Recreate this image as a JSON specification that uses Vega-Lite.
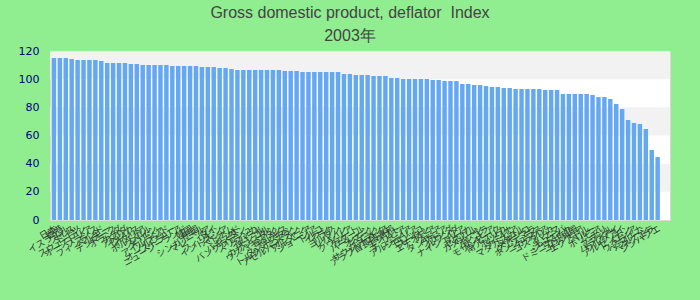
{
  "$schema": "https://vega.github.io/schema/vega-lite/v6.json",
  "autosize": "none",
  "width": 620,
  "height": 169,
  "padding": {"left": 50, "top": 51, "right": 30, "bottom": 80},
  "background": "#90ee90",
  "title": {
    "text": "Gross domestic product, deflator\u00a0 Index",
    "subtitle": "2003年",
    "font": "Liberation Sans",
    "fontSize": 16,
    "fontWeight": "normal",
    "color": "#444444",
    "subtitleFont": "Liberation Sans",
    "subtitleFontSize": 16,
    "subtitleColor": "#444444",
    "subtitlePadding": 7,
    "anchor": "middle",
    "dx": -10,
    "offset": 1
  },
  "config": {
    "view": {"fill": "#ffffff", "stroke": "#d9d9d9", "strokeWidth": 1},
    "axisY": {
      "title": null,
      "domain": false,
      "ticks": false,
      "grid": false,
      "values": [0, 20, 40, 60, 80, 100, 120],
      "labelOverlap": false,
      "labelFont": "DejaVu Sans",
      "labelFontSize": 11,
      "labelColor": "#000080",
      "labelPadding": 11
    }
  },
  "datasets": {
    "bands": [
      {"lo": 100, "hi": 120},
      {"lo": 60, "hi": 80},
      {"lo": 20, "hi": 40}
    ],
    "gdp": [
      {"country": "日本", "value": 115.0},
      {"country": "香港", "value": 115.0},
      {"country": "イスラエル", "value": 115.0},
      {"country": "スイス", "value": 114.3},
      {"country": "ドイツ", "value": 113.6},
      {"country": "スウェーデン", "value": 113.6},
      {"country": "オーストリア", "value": 113.6},
      {"country": "フランス", "value": 113.6},
      {"country": "フィンランド", "value": 112.9},
      {"country": "ベルギー", "value": 111.5},
      {"country": "デンマーク", "value": 111.5},
      {"country": "オランダ", "value": 111.5},
      {"country": "カナダ", "value": 111.5},
      {"country": "アメリカ", "value": 110.8},
      {"country": "イギリス", "value": 110.8},
      {"country": "イタリア", "value": 110.1},
      {"country": "ポルトガル", "value": 110.1},
      {"country": "スペイン", "value": 110.1},
      {"country": "ギリシャ", "value": 110.1},
      {"country": "アイルランド", "value": 110.1},
      {"country": "ノルウェー", "value": 109.4},
      {"country": "オーストラリア", "value": 109.4},
      {"country": "ニュージーランド", "value": 109.4},
      {"country": "韓国", "value": 109.4},
      {"country": "中国", "value": 109.4},
      {"country": "シンガポール", "value": 108.6},
      {"country": "マレーシア", "value": 108.6},
      {"country": "タイ", "value": 108.6},
      {"country": "フィリピン", "value": 107.9},
      {"country": "インドネシア", "value": 107.9},
      {"country": "ベトナム", "value": 107.2},
      {"country": "インド", "value": 106.5},
      {"country": "パキスタン", "value": 106.5},
      {"country": "バングラデシュ", "value": 106.5},
      {"country": "スリランカ", "value": 106.5},
      {"country": "ネパール", "value": 106.5},
      {"country": "モンゴル", "value": 106.5},
      {"country": "カザフスタン", "value": 106.5},
      {"country": "ウズベキスタン", "value": 106.5},
      {"country": "キルギス", "value": 105.8},
      {"country": "タジキスタン", "value": 105.8},
      {"country": "トルクメニスタン", "value": 105.8},
      {"country": "アゼルバイジャン", "value": 105.1},
      {"country": "アルメニア", "value": 105.1},
      {"country": "ジョージア", "value": 105.1},
      {"country": "トルコ", "value": 105.1},
      {"country": "イラン", "value": 105.1},
      {"country": "イラク", "value": 105.1},
      {"country": "ヨルダン", "value": 105.1},
      {"country": "レバノン", "value": 103.7},
      {"country": "シリア", "value": 103.7},
      {"country": "クウェート", "value": 103.0},
      {"country": "カタール", "value": 103.0},
      {"country": "バーレーン", "value": 103.0},
      {"country": "オマーン", "value": 102.3},
      {"country": "イエメン", "value": 102.3},
      {"country": "サウジアラビア", "value": 102.3},
      {"country": "アラブ首長国連邦", "value": 100.9},
      {"country": "エジプト", "value": 100.9},
      {"country": "リビア", "value": 100.1},
      {"country": "チュニジア", "value": 100.1},
      {"country": "アルジェリア", "value": 100.1},
      {"country": "モロッコ", "value": 100.1},
      {"country": "スーダン", "value": 100.1},
      {"country": "エチオピア", "value": 99.4},
      {"country": "ケニア", "value": 99.4},
      {"country": "タンザニア", "value": 98.7},
      {"country": "ウガンダ", "value": 98.7},
      {"country": "ルワンダ", "value": 98.7},
      {"country": "ナイジェリア", "value": 96.6},
      {"country": "ガーナ", "value": 96.6},
      {"country": "セネガル", "value": 95.9},
      {"country": "カメルーン", "value": 95.9},
      {"country": "アンゴラ", "value": 95.2},
      {"country": "ザンビア", "value": 94.4},
      {"country": "モザンビーク", "value": 94.4},
      {"country": "南アフリカ", "value": 93.7},
      {"country": "ボツワナ", "value": 93.7},
      {"country": "ナミビア", "value": 93.0},
      {"country": "マダガスカル", "value": 93.0},
      {"country": "メキシコ", "value": 93.0},
      {"country": "グアテマラ", "value": 93.0},
      {"country": "ホンジュラス", "value": 93.0},
      {"country": "ニカラグア", "value": 92.3},
      {"country": "コスタリカ", "value": 92.3},
      {"country": "パナマ", "value": 92.3},
      {"country": "キューバ", "value": 89.5},
      {"country": "ジャマイカ", "value": 89.5},
      {"country": "ドミニカ共和国", "value": 89.5},
      {"country": "コロンビア", "value": 89.5},
      {"country": "エクアドル", "value": 89.5},
      {"country": "ペルー", "value": 88.8},
      {"country": "ボリビア", "value": 87.3},
      {"country": "チリ", "value": 87.3},
      {"country": "ブラジル", "value": 85.9},
      {"country": "パラグアイ", "value": 82.4},
      {"country": "ウルグアイ", "value": 78.8},
      {"country": "アルゼンチン", "value": 71.0},
      {"country": "ロシア", "value": 68.9},
      {"country": "ウクライナ", "value": 68.2},
      {"country": "ベラルーシ", "value": 64.6},
      {"country": "ベネズエラ", "value": 49.7},
      {"country": "ジンバブエ", "value": 44.7}
    ]
  },
  "layer": [
    {
      "data": {"name": "bands"},
      "mark": {"type": "rect", "fill": "#f2f2f2"},
      "encoding": {
        "y": {"field": "lo", "type": "quantitative", "scale": {"domain": [0, 120], "nice": false}, "axis": {"values": [0, 20, 40, 60, 80, 100, 120], "labelOverlap": false}},
        "y2": {"field": "hi"}
      }
    },
    {
      "data": {"name": "gdp"},
      "mark": {"type": "bar", "color": "#64a8f2"},
      "encoding": {
        "x": {
          "field": "country",
          "type": "nominal",
          "sort": null,
          "scale": {"paddingInner": 0.25, "paddingOuter": 1.17, "align": 0.145},
          "axis": {
            "title": null,
            "domain": false,
            "ticks": false,
            "labelAngle": -30,
            "labelFont": "Noto Sans CJK JP",
            "labelFontSize": 9,
            "labelColor": "#333333",
            "labelPadding": 4,
            "labelOverlap": false,
            "labelLimit": 0
          }
        },
        "y": {
          "field": "value",
          "type": "quantitative",
          "scale": {"domain": [0, 120], "nice": false},
          "axis": {"values": [0, 20, 40, 60, 80, 100, 120], "labelOverlap": false}
        }
      }
    }
  ]
}
